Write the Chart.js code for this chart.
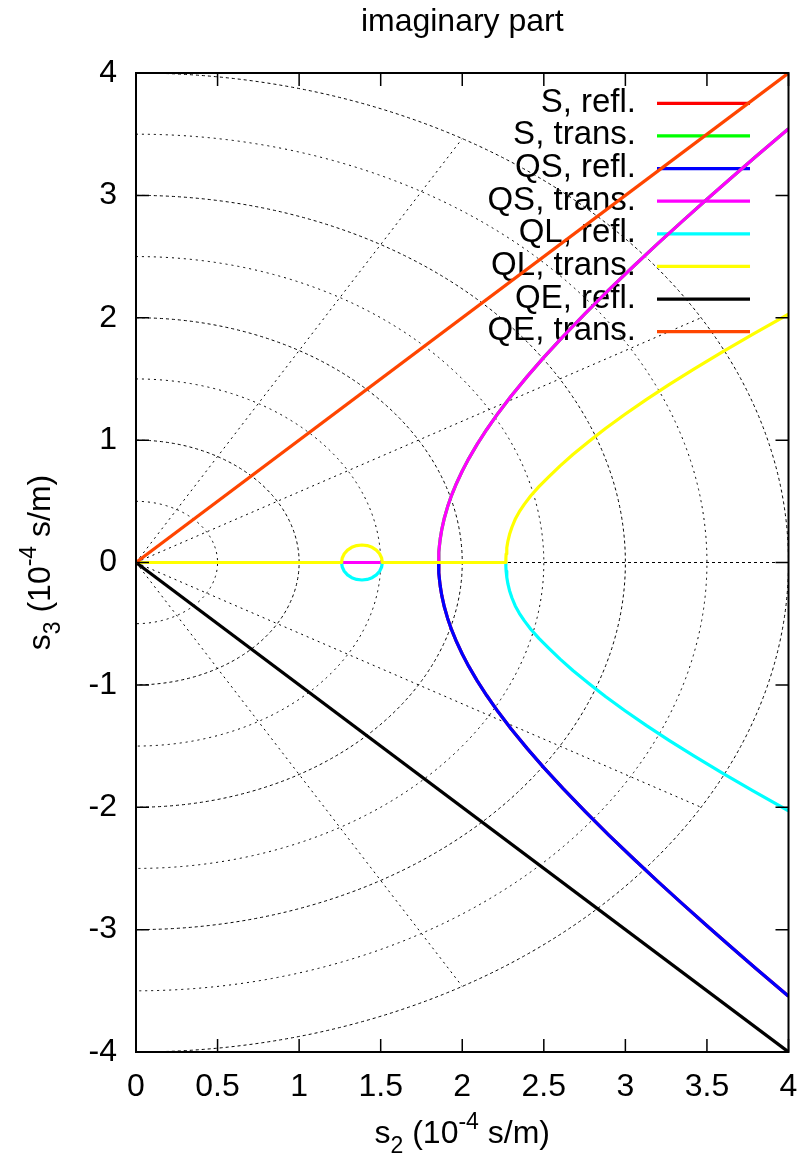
<!DOCTYPE html>
<html>
<head>
<meta charset="utf-8">
<title>imaginary part</title>
<script src="https://cdn.jsdelivr.net/npm/chart.js@4.4.1/dist/chart.umd.min.js"></script>
<style>
  html, body { margin: 0; padding: 0; background: #ffffff; }
  canvas { display: block; }
</style>
</head>
<body>
<canvas id="chart" width="804" height="1157"></canvas>
<script>
// ---- values -------------------------------------------------------------
const chartTitle = 'imaginary part';

const xTickLabels = ['0', '0.5', '1', '1.5', '2', '2.5', '3', '3.5', '4'];
const yTickLabels = ['-4', '-3', '-2', '-1', '0', '1', '2', '3', '4'];

const seriesLabels = ['S, refl.', 'S, trans.', 'QS, refl.', 'QS, trans.',
                      'QL, refl.', 'QL, trans.', 'QE, refl.', 'QE, trans.'];
const seriesColors = ['#ff0000', '#00ff00', '#0000ff', '#ff00ff',
                      '#00ffff', '#ffff00', '#000000', '#ff4500'];

// S waves (imaginary part of s3 against s2)
const sS2       = [0, 1.855, 1.8555, 1.857, 1.86, 1.865, 1.875, 1.89, 1.91, 1.935, 1.965, 2.00, 2.04, 2.09, 2.15, 2.22, 2.30, 2.40, 2.50, 2.62, 2.75, 2.90, 3.05, 3.20, 3.35, 3.50, 3.65, 3.80, 4.00];
const sReflS3   = [0, 0, -0.043, -0.086, -0.136, -0.193, -0.273, -0.362, -0.455, -0.551, -0.648, -0.748, -0.849, -0.963, -1.087, -1.220, -1.360, -1.523, -1.676, -1.850, -2.030, -2.229, -2.421, -2.608, -2.790, -2.968, -3.144, -3.317, -3.544];
const sTransS3  = [0, 0, 0.043, 0.086, 0.136, 0.193, 0.273, 0.362, 0.455, 0.551, 0.648, 0.748, 0.849, 0.963, 1.087, 1.220, 1.360, 1.523, 1.676, 1.850, 2.030, 2.229, 2.421, 2.608, 2.790, 2.968, 3.144, 3.317, 3.544];

// QS waves
const qsS2      = [0, 1.855, 1.8555, 1.857, 1.86, 1.865, 1.875, 1.89, 1.91, 1.935, 1.965, 2.00, 2.04, 2.09, 2.15, 2.22, 2.30, 2.40, 2.50, 2.62, 2.75, 2.90, 3.05, 3.20, 3.35, 3.50, 3.65, 3.80, 4.00];
const qsReflS3  = [0, 0, -0.043, -0.086, -0.136, -0.193, -0.273, -0.362, -0.455, -0.551, -0.648, -0.748, -0.849, -0.963, -1.087, -1.220, -1.360, -1.523, -1.676, -1.850, -2.030, -2.229, -2.421, -2.608, -2.790, -2.968, -3.144, -3.317, -3.544];
const qsTransS3 = [0, 0, 0.043, 0.086, 0.136, 0.193, 0.273, 0.362, 0.455, 0.551, 0.648, 0.748, 0.849, 0.963, 1.087, 1.220, 1.360, 1.523, 1.676, 1.850, 2.030, 2.229, 2.421, 2.608, 2.790, 2.968, 3.144, 3.317, 3.544];

// QL waves (small loop near s2 = 1.4, then a branch from s2 = 2.27)
const qlS2      = [0, 1.26, 1.2643, 1.2767, 1.2966, 1.3225, 1.3526, 1.385, 1.4174, 1.4475, 1.4734, 1.4933, 1.5057, 1.51,
                   2.267, 2.2675, 2.269, 2.273, 2.28, 2.29, 2.305, 2.325, 2.35, 2.38, 2.42, 2.47, 2.53, 2.60, 2.68, 2.78, 2.88, 3.00, 3.13, 3.27, 3.42, 3.59, 3.78, 4.00];
const qlReflS3  = [0, 0, -0.037, -0.0715, -0.1011, -0.1238, -0.1381, -0.143, -0.1381, -0.1238, -0.1011, -0.0715, -0.037, 0,
                   0, -0.035, -0.07, -0.12, -0.175, -0.23, -0.29, -0.355, -0.415, -0.475, -0.545, -0.62, -0.70, -0.79, -0.885, -0.993, -1.097, -1.213, -1.333, -1.455, -1.580, -1.717, -1.865, -2.03];
const qlTransS3 = [0, 0, 0.037, 0.0715, 0.1011, 0.1238, 0.1381, 0.143, 0.1381, 0.1238, 0.1011, 0.0715, 0.037, 0,
                   0, 0.035, 0.07, 0.12, 0.175, 0.23, 0.29, 0.355, 0.415, 0.475, 0.545, 0.62, 0.70, 0.79, 0.885, 0.993, 1.097, 1.213, 1.333, 1.455, 1.580, 1.717, 1.865, 2.03];

// QE waves
const qeS2      = [0, 4];
const qeReflS3  = [0, -4];
const qeTransS3 = [0, 4];

// polar grid: circle radii and ray angles (degrees)
const gridRadii  = [0.5, 1, 1.5, 2, 2.5, 3, 3.5, 4];
const gridAngles = [-60, -30, 0, 30, 60];

// ---- helpers ------------------------------------------------------------
const FONT = '"Liberation Sans", Arial, Helvetica, sans-serif';
const zip = (xs, ys) => xs.map((x, i) => ({ x: x, y: ys[i] }));

const seriesData = [
  zip(sS2, sReflS3), zip(sS2, sTransS3),
  zip(qsS2, qsReflS3), zip(qsS2, qsTransS3),
  zip(qlS2, qlReflS3), zip(qlS2, qlTransS3),
  zip(qeS2, qeReflS3), zip(qeS2, qeTransS3)
];

const datasets = seriesLabels.map((label, i) => ({
  label: label,
  data: seriesData[i],
  borderColor: seriesColors[i],
  backgroundColor: seriesColors[i],
  borderWidth: 3.2,
  showLine: true,
  pointRadius: 0,
  fill: false,
  tension: 0,
  borderJoinStyle: 'round',
  order: seriesLabels.length - i   // later curves are painted on top
}));

// text with sub/superscripts
function richWidth(ctx, parts) {
  let w = 0;
  parts.forEach(p => {
    ctx.font = (p.sub || p.sup ? '23px ' : '32px ') + FONT;
    w += ctx.measureText(p.t).width;
  });
  return w;
}
function drawRich(ctx, parts, cx, baseline) {
  const total = richWidth(ctx, parts);
  let x = cx - total / 2;
  ctx.textAlign = 'left';
  ctx.textBaseline = 'alphabetic';
  parts.forEach(p => {
    ctx.font = (p.sub || p.sup ? '23px ' : '32px ') + FONT;
    const dy = p.sub ? 10 : (p.sup ? -14 : 0);
    ctx.fillText(p.t, x, baseline + dy);
    x += ctx.measureText(p.t).width;
  });
}

// polar grid behind the curves
const polarGrid = {
  id: 'polarGrid',
  beforeDatasetsDraw(chart) {
    const { ctx, chartArea: a, scales: { x, y } } = chart;
    const cx = x.getPixelForValue(0), cy = y.getPixelForValue(0);
    const sx = x.getPixelForValue(1) - cx, sy = cy - y.getPixelForValue(1);
    ctx.save();
    ctx.beginPath();
    ctx.rect(a.left, a.top, a.right - a.left, a.bottom - a.top);
    ctx.clip();
    ctx.lineWidth = 1;
    ctx.strokeStyle = '#000000';
    gridRadii.forEach(r => {
      ctx.setLineDash(Number.isInteger(r) ? [3, 3] : [2, 4]);
      ctx.beginPath();
      ctx.ellipse(cx, cy, r * sx, r * sy, 0, -Math.PI / 2, Math.PI / 2);
      ctx.stroke();
    });
    const rMax = gridRadii[gridRadii.length - 1];
    gridAngles.forEach(deg => {
      const t = deg * Math.PI / 180;
      ctx.setLineDash(deg === 0 ? [3, 3] : [2, 4]);
      ctx.beginPath();
      ctx.moveTo(cx, cy);
      ctx.lineTo(cx + rMax * Math.cos(t) * sx, cy - rMax * Math.sin(t) * sy);
      ctx.stroke();
    });
    ctx.restore();
  }
};

// key box: labels right aligned, sample line on the right
const keyBox = {
  id: 'keyBox',
  beforeDatasetsDraw(chart) {
    const { ctx } = chart;
    const textRight = 636, lineL = 657, lineR = 750, top = 103.3, step = 32.63;
    ctx.save();
    ctx.font = '33px ' + FONT;
    ctx.textAlign = 'right';
    ctx.textBaseline = 'alphabetic';
    chart.data.datasets.forEach((ds, i) => {
      const yy = top + i * step;
      ctx.fillStyle = '#000000';
      ctx.fillText(ds.label, textRight, yy + 8.5);
      ctx.strokeStyle = ds.borderColor;
      ctx.lineWidth = 3.2;
      ctx.beginPath();
      ctx.moveTo(lineL, yy);
      ctx.lineTo(lineR, yy);
      ctx.stroke();
    });
    ctx.restore();
  }
};

// frame, inward ticks, title and axis titles
const frame = {
  id: 'frame',
  afterDatasetsDraw(chart) {
    const { ctx, chartArea: a, scales: { x, y } } = chart;
    ctx.save();
    ctx.strokeStyle = '#000000';
    ctx.lineWidth = 1.5;
    const tl = 13;
    x.ticks.forEach(t => {
      const px = x.getPixelForValue(t.value);
      ctx.beginPath();
      ctx.moveTo(px, a.bottom); ctx.lineTo(px, a.bottom - tl);
      ctx.moveTo(px, a.top);    ctx.lineTo(px, a.top + tl);
      ctx.stroke();
    });
    y.ticks.forEach(t => {
      const py = y.getPixelForValue(t.value);
      ctx.beginPath();
      ctx.moveTo(a.left, py);  ctx.lineTo(a.left + tl, py);
      ctx.moveTo(a.right, py); ctx.lineTo(a.right - tl, py);
      ctx.stroke();
    });
    ctx.lineWidth = 2;
    ctx.strokeRect(a.left, a.top, a.right - a.left, a.bottom - a.top);
    ctx.restore();
  },
  afterDraw(chart) {
    const { ctx, chartArea: a } = chart;
    const midX = (a.left + a.right) / 2, midY = (a.top + a.bottom) / 2;
    ctx.save();
    ctx.fillStyle = '#000000';
    ctx.font = '32px ' + FONT;
    ctx.textAlign = 'center';
    ctx.textBaseline = 'alphabetic';
    ctx.fillText(chartTitle, midX, 31);

    drawRich(ctx, [{ t: 's' }, { t: '2', sub: true }, { t: ' (10' }, { t: '-4', sup: true }, { t: ' s/m)' }], midX, 1143);

    ctx.translate(50, midY);
    ctx.rotate(-Math.PI / 2);
    drawRich(ctx, [{ t: 's' }, { t: '3', sub: true }, { t: ' (10' }, { t: '-4', sup: true }, { t: ' s/m)' }], 0, 0);
    ctx.restore();
  }
};

new Chart(document.getElementById('chart'), {
  type: 'scatter',
  data: { datasets: datasets },
  plugins: [polarGrid, keyBox, frame],
  options: {
    responsive: false,
    animation: false,
    devicePixelRatio: 1,
    layout: { padding: { left: 0, right: 15.5, top: 73, bottom: 0 } },
    plugins: { legend: { display: false }, tooltip: { enabled: false }, title: { display: false } },
    events: [],
    scales: {
      x: {
        type: 'linear', min: 0, max: 4,
        grid: { display: false, drawTicks: false },
        border: { display: false },
        ticks: {
          stepSize: 0.5, padding: 16, color: '#000000', maxRotation: 0, autoSkip: false,
          font: { family: FONT, size: 32 },
          callback: (v, i) => xTickLabels[i]
        },
        afterFit: s => { s.height = 105; s.paddingLeft = 0; s.paddingRight = 0; }
      },
      y: {
        type: 'linear', min: -4, max: 4,
        grid: { display: false, drawTicks: false },
        border: { display: false },
        ticks: {
          stepSize: 1, padding: 19, color: '#000000', autoSkip: false,
          font: { family: FONT, size: 32 },
          callback: (v, i) => yTickLabels[i]
        },
        afterFit: s => { s.width = 136; s.paddingTop = 0; s.paddingBottom = 0; }
      }
    }
  }
});
</script>
</body>
</html>
